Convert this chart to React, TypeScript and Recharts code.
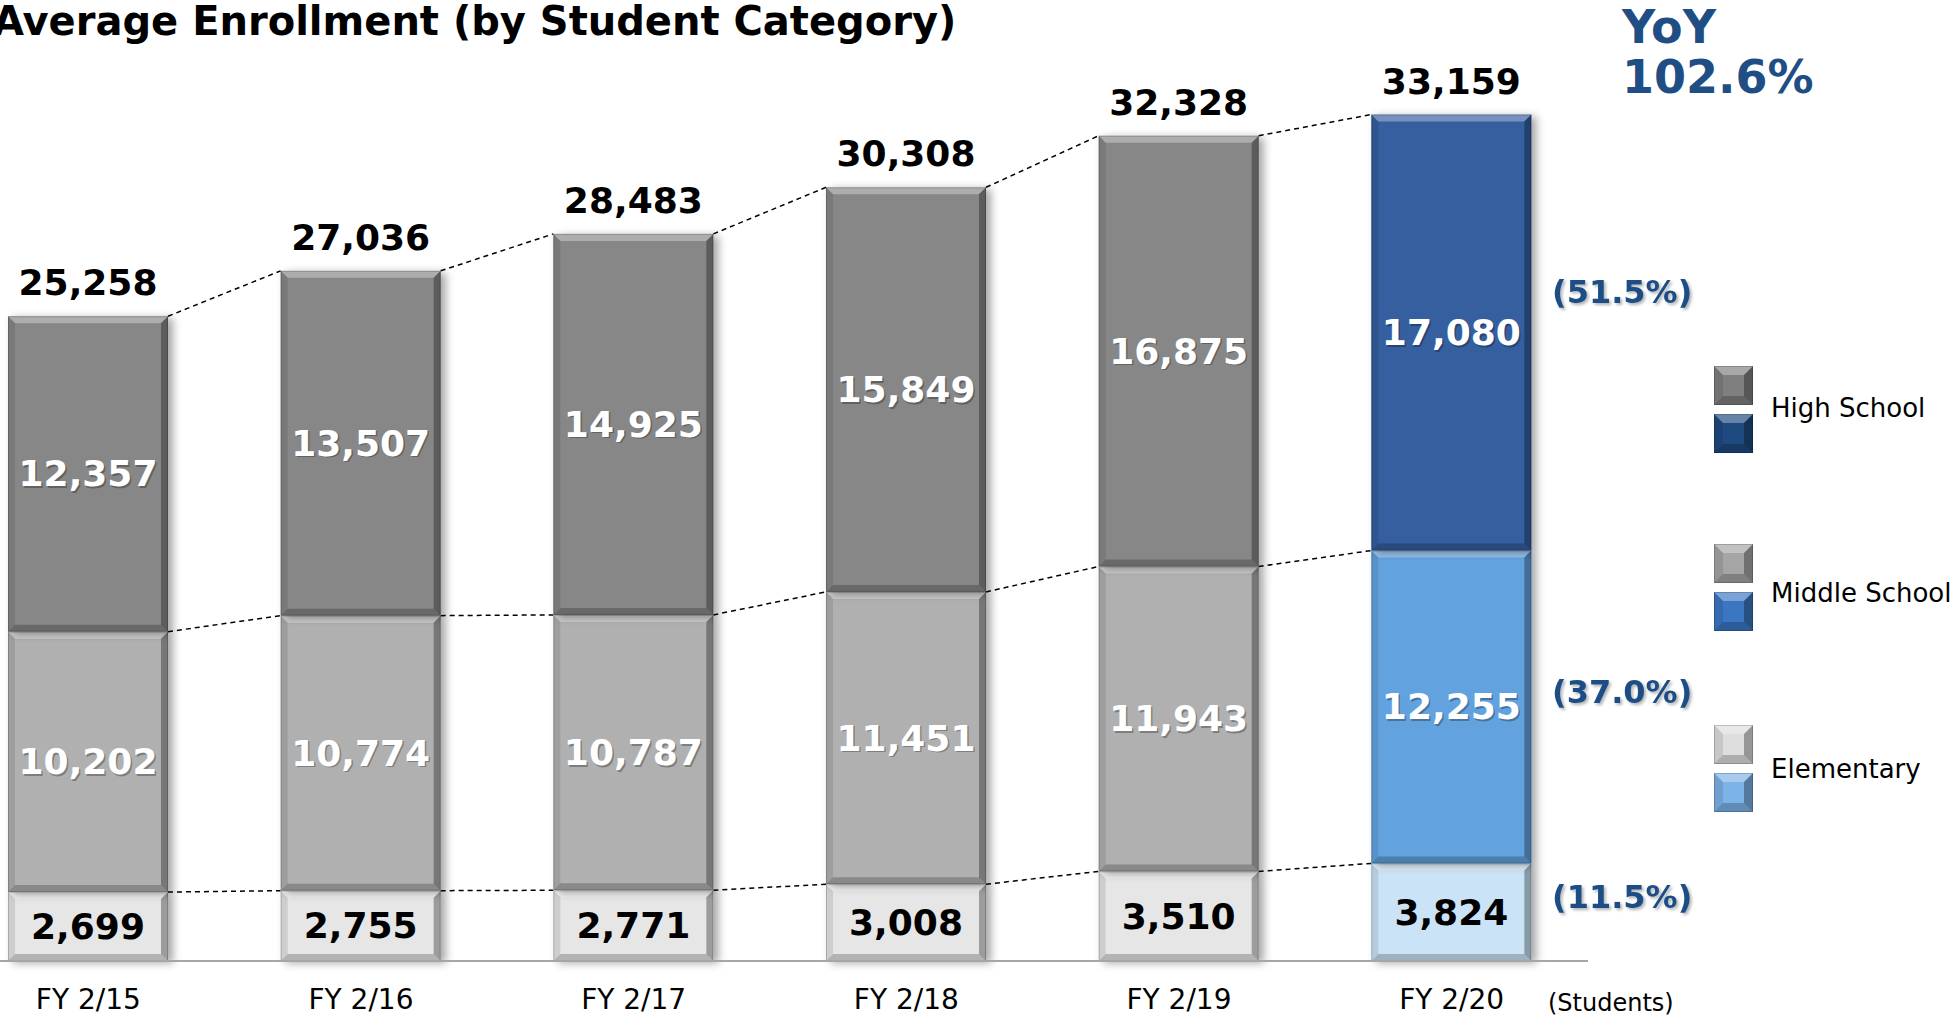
import React from 'react';
import { BarChart, Bar, XAxis, YAxis } from 'recharts';

// Данные по категориям учащихся (среднее число за год)
const categories = ['FY 2/15', 'FY 2/16', 'FY 2/17', 'FY 2/18', 'FY 2/19', 'FY 2/20'];
const elementary = [2699, 2755, 2771, 3008, 3510, 3824];
const middleSchool = [10202, 10774, 10787, 11451, 11943, 12255];
const highSchool = [12357, 13507, 14925, 15849, 16875, 17080];
const totals = [25258, 27036, 28483, 30308, 32328, 33159];
const shareLabels = ['(51.5%)', '(37.0%)', '(11.5%)'];
const yoyLabel = '102.6%';
const legendLabels = ['High School', 'Middle School', 'Elementary'];

const data = categories.map((name, i) => ({
  name,
  elem: elementary[i],
  mid: middleSchool[i],
  high: highSchool[i],
}));

// накопленные вершины каждого сегмента
const elemTop = elementary;
const midTop = elementary.map((v, i) => v + middleSchool[i]);
const highTop = midTop.map((v, i) => v + highSchool[i]);

// layout
const CHART_W = 1800;
const CHART_H = 1020;
const MARGIN = { top: 42, right: 164, bottom: 19, left: 0 };
const STEP = (CHART_W - MARGIN.left - MARGIN.right) / categories.length;

const FONT = '"DejaVu Sans", Verdana, sans-serif';
const BLUE_TEXT = '#1f4e85';

const colors = {
  high: ['#878787', '#878787', '#878787', '#878787', '#878787', '#355e9f'],
  mid: ['#b0b0b0', '#b0b0b0', '#b0b0b0', '#b0b0b0', '#b0b0b0', '#62a3df'],
  elem: ['#e6e6e6', '#e6e6e6', '#e6e6e6', '#e6e6e6', '#e6e6e6', '#cbe3f7'],
};

function Bevel({ x, y, w, h, fill, b = 7, shadow = true }: any) {
  return (
    <g filter={shadow ? 'url(#barShadow)' : undefined}>
      <rect x={x} y={y} width={w} height={h} fill={fill} />
      {/* верхняя грань светлее */}
      <polygon points={`${x},${y} ${x + w},${y} ${x + w - b},${y + b} ${x + b},${y + b}`} fill="#fff" fillOpacity={0.32} />
      <polygon points={`${x},${y} ${x + b},${y + b} ${x + b},${y + h - b} ${x},${y + h}`} fill="#000" fillOpacity={0.1} />
      <polygon points={`${x + w},${y} ${x + w},${y + h} ${x + w - b},${y + h - b} ${x + w - b},${y + b}`} fill="#000" fillOpacity={0.32} />
      <polygon points={`${x},${y + h} ${x + b},${y + h - b} ${x + w - b},${y + h - b} ${x + w},${y + h}`} fill="#000" fillOpacity={0.22} />
      <rect x={x + 0.5} y={y + 0.5} width={w - 1} height={h - 1} fill="none" stroke="#000" strokeOpacity={0.18} />
    </g>
  );
}

function ValueText({ x, y, text, white }: any) {
  const common = {
    textAnchor: 'middle' as const,
    dominantBaseline: 'central' as const,
    fontFamily: FONT,
    fontWeight: 700,
    fontSize: 36,
  };
  if (!white) {
    return <text x={x} y={y} fill="#000" {...common}>{text}</text>;
  }
  return (
    <g>
      <text x={x + 1.5} y={y + 1.5} fill="#000" fillOpacity={0.3} {...common}>{text}</text>
      <text x={x} y={y} fill="#fff" {...common}>{text}</text>
    </g>
  );
}

function makeShape(key: 'elem' | 'mid' | 'high', values: number[], tops: number[]) {
  return (props: any) => {
    const { x, y, width, height, index } = props;
    if (width == null || height == null) return null;
    const ppu = height / values[index];
    const base = y + tops[index] * ppu;
    const hasNext = index < values.length - 1;
    const yNext = hasNext ? base - tops[index + 1] * ppu : 0;
    const fmt = values[index].toLocaleString('en-US');
    const white = key !== 'elem';
    return (
      <g>
        <Bevel x={x} y={y} w={width} h={height} fill={colors[key][index]} />
        {hasNext && (
          <line
            x1={x + width}
            y1={y}
            x2={x + STEP}
            y2={yNext}
            stroke="#000"
            strokeWidth={1.5}
            strokeDasharray="5 4"
          />
        )}
        <ValueText x={x + width / 2} y={y + height / 2} text={fmt} white={white} />
        {key === 'high' && (
          <text
            x={x + width / 2}
            y={y - 21}
            textAnchor="middle"
            fontFamily={FONT}
            fontWeight={700}
            fontSize={36}
            fill="#000"
          >
            {totals[index].toLocaleString('en-US')}
          </text>
        )}
      </g>
    );
  };
}

const legendColors = [
  ['#7f7f7f', '#1f4a7f'],
  ['#a5a5a5', '#3b76c2'],
  ['#dedede', '#7cb3e8'],
];
const legendTops = [366, 544, 725];
const legendBaselines = [417, 602, 778];
const shareBaselines = [303, 703, 908];

export default function App() {
  return (
    <div
      style={{
        position: 'fixed',
        top: 0,
        left: 0,
        width: 1960,
        height: 1020,
        overflow: 'hidden',
        background: '#fff',
      }}
    >
      <div style={{ position: 'absolute', left: -48, top: 0 }}>
        <BarChart width={CHART_W} height={CHART_H} data={data} margin={MARGIN} barSize={160}>
          <defs>
            <filter id="barShadow" x="-10%" y="-10%" width="130%" height="130%">
              <feDropShadow dx={5} dy={2} stdDeviation={4} floodColor="#000" floodOpacity={0.35} />
            </filter>
          </defs>
          <XAxis
            dataKey="name"
            axisLine={{ stroke: '#a6a6a6', strokeWidth: 2 }}
            tickLine={false}
            tickSize={0}
            height={40}
            interval={0}
            tick={(p: any) => (
              <text x={p.x} y={p.y + 46} textAnchor="middle" fontFamily={FONT} fontSize={28} fill="#000">
                {p.payload.value}
              </text>
            )}
          />
          <YAxis hide domain={[0, 36000]} />
          <Bar dataKey="elem" stackId="s" isAnimationActive={false} shape={makeShape('elem', elementary, elemTop)} />
          <Bar dataKey="mid" stackId="s" isAnimationActive={false} shape={makeShape('mid', middleSchool, midTop)} />
          <Bar dataKey="high" stackId="s" isAnimationActive={false} shape={makeShape('high', highSchool, highTop)} />
        </BarChart>
      </div>

      <svg
        width={1960}
        height={1020}
        style={{ position: 'absolute', left: 0, top: 0, pointerEvents: 'none' }}
      >
        <defs>
          <filter id="textShadow" x="-10%" y="-20%" width="130%" height="150%">
            <feDropShadow dx={2} dy={2} stdDeviation={1.5} floodColor="#000" floodOpacity={0.3} />
          </filter>
        </defs>
        <text x={-7} y={35} fontFamily={FONT} fontWeight={700} fontSize={40} fill="#000">
          Average Enrollment (by Student Category)
        </text>
        <text x={1622} y={43} fontFamily={FONT} fontWeight={700} fontSize={46} fill={BLUE_TEXT}>
          YoY
        </text>
        <text x={1622} y={93} fontFamily={FONT} fontWeight={700} fontSize={46} fill={BLUE_TEXT}>
          {yoyLabel}
        </text>
        {shareLabels.map((s, i) => (
          <text
            key={s}
            x={1552}
            y={shareBaselines[i]}
            fontFamily={FONT}
            fontWeight={700}
            fontSize={32}
            fill={BLUE_TEXT}
            filter="url(#textShadow)"
          >
            {s}
          </text>
        ))}
        {legendLabels.map((label, i) => (
          <g key={label}>
            <Bevel x={1714} y={legendTops[i]} w={39} h={39} fill={legendColors[i][0]} b={9} shadow={false} />
            <Bevel x={1714} y={legendTops[i] + 48} w={39} h={39} fill={legendColors[i][1]} b={9} shadow={false} />
            <text x={1771} y={legendBaselines[i]} fontFamily={FONT} fontSize={26} fill="#000">
              {label}
            </text>
          </g>
        ))}
        <text x={1548} y={1011} fontFamily={FONT} fontSize={24} fill="#000">
          (Students)
        </text>
      </svg>
    </div>
  );
}
